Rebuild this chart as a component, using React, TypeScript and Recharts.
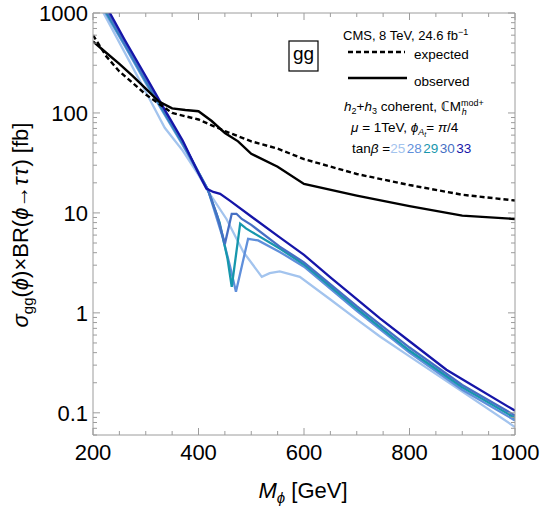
import { LineChart, Line, XAxis, YAxis } from 'recharts'

// CMS 8 TeV limits (fb) vs M_phi (GeV)
const obsMass = [200, 225, 250, 275, 300, 325, 350, 375, 400, 425, 450, 475, 500, 550, 600, 700, 800, 900, 1000]
const obsXs = [520, 400, 310, 235, 175, 130, 111, 107, 104, 83, 63, 52, 39, 29, 19.5, 14.9, 11.7, 9.4, 8.7]
const expMass = [200, 225, 250, 275, 300, 350, 400, 450, 500, 550, 600, 700, 800, 900, 1000]
const expXs = [600, 370, 260, 200, 153, 100, 86, 66, 52, 44, 34.5, 24.5, 19, 15.2, 13.3]

// h2+h3 coherent predictions for each tanβ
const tb25Mass = [214, 220, 260, 300, 336, 370, 400, 418, 453, 485, 520, 535, 554, 592, 650, 700, 744, 800, 900, 1000]
const tb25Xs = [1400, 1000, 404, 163, 71, 42, 24, 16.5, 8.7, 4.07, 2.29, 2.5, 2.6, 2.29, 1.36, 0.86, 0.58, 0.367, 0.163, 0.072]
const tb28Mass = [216, 224, 260, 300, 340, 370, 400, 418, 445, 460, 471, 494, 513, 554, 600, 700, 800, 900, 1000]
const tb28Xs = [1400, 1000, 470, 200, 88, 48, 25, 17, 5.9, 2.9, 1.63, 5.5, 5.3, 4.07, 2.9, 1.05, 0.4, 0.17, 0.084]
const tb29Mass = [218, 226, 260, 300, 340, 370, 400, 418, 440, 455, 463, 479, 490, 500, 554, 600, 700, 800, 900, 1000]
const tb29Xs = [1400, 1000, 490, 210, 92, 50, 25.5, 17, 8, 3.5, 1.82, 7.8, 7.0, 6.5, 4.4, 3.05, 1.1, 0.42, 0.18, 0.089]
const tb30Mass = [218, 228, 260, 300, 340, 370, 400, 418, 435, 450, 463, 472, 482, 500, 554, 600, 700, 800, 900, 1000]
const tb30Xs = [1300, 1000, 500, 215, 94, 51, 25.5, 17, 9.5, 4.9, 9.8, 9.8, 8.7, 7.6, 4.6, 3.2, 1.17, 0.45, 0.19, 0.094]
const tb33Mass = [220, 232, 260, 300, 340, 370, 400, 415, 428, 441, 460, 500, 554, 600, 650, 700, 744, 800, 870, 900, 1000]
const tb33Xs = [1300, 1000, 540, 233, 99, 53, 25, 17.5, 16.2, 15.5, 13.2, 9.2, 5.7, 3.8, 2.27, 1.37, 0.88, 0.52, 0.27, 0.217, 0.105]

const xMajor = [200, 400, 600, 800, 1000]
const xMinor = [250, 300, 350, 450, 500, 550, 650, 700, 750, 850, 900, 950]
const yMajor = [0.1, 1, 10, 100, 1000]
const yMinor = [0.01, 0.1, 1, 10, 100]
  .flatMap((d) => [2, 3, 4, 5, 6, 7, 8, 9].map((k) => k * d))
  .filter((v) => v >= 0.06 && v < 1000)

const FRAME = '#9c9c9c'
const FONT = '"Liberation Sans", Arial, Helvetica, sans-serif'

const pts = (m: number[], v: number[]) => m.map((x, i) => ({ m: x, v: v[i] }))

const tanbSeries = [
  { name: '25', color: '#a3c4ee', data: pts(tb25Mass, tb25Xs) },
  { name: '28', color: '#5f8fdb', data: pts(tb28Mass, tb28Xs) },
  { name: '29', color: '#1797ad', data: pts(tb29Mass, tb29Xs) },
  { name: '30', color: '#4670c4', data: pts(tb30Mass, tb30Xs) },
  { name: '33', color: '#1515a8', data: pts(tb33Mass, tb33Xs) }
]

const isMajor = (list: number[], v: number) => list.some((t) => Math.abs(t - v) < 1e-9)

const LeftTick = ({ x, y, payload }: any) => {
  const major = isMajor(yMajor, payload.value)
  return (
    <g>
      <line x1={x} y1={y} x2={x + (major ? 7 : 4)} y2={y} stroke={FRAME} />
      {major && (
        <text x={x - 5} y={y + 8} textAnchor="end" fontSize={22} fill="#000">
          {String(payload.value)}
        </text>
      )}
    </g>
  )
}

const RightTick = ({ x, y, payload }: any) => {
  const major = isMajor(yMajor, payload.value)
  return <line x1={x - (major ? 7 : 4)} y1={y} x2={x} y2={y} stroke={FRAME} />
}

const BottomTick = ({ x, y, payload }: any) => {
  const major = isMajor(xMajor, payload.value)
  return (
    <g>
      <line x1={x} y1={y - (major ? 7 : 4)} x2={x} y2={y} stroke={FRAME} />
      {major && (
        <text x={x} y={y + 25} textAnchor="middle" fontSize={22} fill="#000">
          {String(payload.value)}
        </text>
      )}
    </g>
  )
}

const TopTick = ({ x, y, payload }: any) => {
  const major = isMajor(xMajor, payload.value)
  return <line x1={x} y1={y} x2={x} y2={y + (major ? 7 : 4)} stroke={FRAME} />
}

const Annotations = () => (
  <svg
    width={542}
    height={509}
    style={{ position: 'absolute', left: 0, top: 0, pointerEvents: 'none', whiteSpace: 'pre' }}
    fontFamily={FONT}
  >
    {/* axis titles */}
    <text transform="rotate(-90)" x={-225} y={28} textAnchor="middle" fontSize={22}>
      <tspan fontStyle="italic">σ</tspan>
      <tspan fontSize={15} dy={5}>gg</tspan>
      <tspan dy={-5}>(</tspan>
      <tspan fontStyle="italic">ϕ</tspan>
      <tspan>)×BR(</tspan>
      <tspan fontStyle="italic">ϕ</tspan>
      <tspan>→</tspan>
      <tspan fontStyle="italic">τ</tspan>
      <tspan fontStyle="italic" dx={1.5}>τ</tspan>
      <tspan dx={1}>) [fb]</tspan>
    </text>
    <text x={303} y={498} textAnchor="middle" fontSize={22}>
      <tspan fontStyle="italic">M</tspan>
      <tspan fontStyle="italic" fontSize={15} dy={5}>ϕ</tspan>
      <tspan dy={-5}> [GeV]</tspan>
    </text>

    {/* gg box */}
    <rect x={289} y={41} width={29} height={30} fill="#fff" stroke="#000" strokeWidth={1.2} />
    <text x={303.5} y={60} textAnchor="middle" fontSize={19}>gg</text>

    {/* legend */}
    <text x={343} y={40} fontSize={13}>
      <tspan>CMS, 8 TeV, 24.6 fb</tspan>
      <tspan fontSize={9} dy={-5}>−1</tspan>
    </text>
    <line x1={348} y1={52} x2={405} y2={52} stroke="#000" strokeWidth={2.4} strokeDasharray="5 3" />
    <text x={414} y={59} fontSize={13.5}>expected</text>
    <line x1={348} y1={78} x2={407} y2={78} stroke="#000" strokeWidth={2.4} />
    <text x={414} y={86} fontSize={13.5}>observed</text>

    <text x={344} y={111} fontSize={13.5}>
      <tspan fontStyle="italic">h</tspan>
      <tspan fontSize={9} dy={3}>2</tspan>
      <tspan dy={-3}>+</tspan>
      <tspan fontStyle="italic">h</tspan>
      <tspan fontSize={9} dy={3}>3</tspan>
      <tspan dy={-3}> coherent, ℂM</tspan>
      <tspan fontSize={9} dy={-5}>mod+</tspan>
      <tspan fontSize={9} fontStyle="italic" dx={-22} dy={9}>h</tspan>
    </text>
    <text x={351} y={132} fontSize={13.5}>
      <tspan fontStyle="italic">μ</tspan>
      <tspan> = 1TeV, </tspan>
      <tspan fontStyle="italic">ϕ</tspan>
      <tspan fontSize={9} fontStyle="italic" dy={3}>A</tspan>
      <tspan fontSize={7} fontStyle="italic" dy={2}>t</tspan>
      <tspan dy={-5}>= </tspan>
      <tspan fontStyle="italic">π</tspan>
      <tspan>/4</tspan>
    </text>
    <text x={352} y={153} fontSize={13.5}>
      <tspan>tan</tspan>
      <tspan fontStyle="italic">β</tspan>
      <tspan> =</tspan>
      {tanbSeries.map((s, i) => (
        <tspan key={s.name} fill={s.color} dx={i === 0 ? 0 : 1.5}>
          {s.name}
        </tspan>
      ))}
    </text>
  </svg>
)

export default function App() {
  return (
    <div
      style={{
        position: 'absolute',
        left: 0,
        top: 0,
        width: 542,
        height: 509,
        background: '#fff',
        fontFamily: FONT
      }}
    >
      <LineChart width={542} height={509} margin={{ top: 0, right: 0, bottom: 0, left: 0 }}>
        <XAxis
          xAxisId={0}
          type="number"
          dataKey="m"
          domain={[200, 1000]}
          ticks={[...xMajor, ...xMinor]}
          interval={0}
          allowDataOverflow
          height={74}
          tickSize={0}
          tickMargin={0}
          tickLine={false}
          axisLine={{ stroke: FRAME }}
          tick={<BottomTick />}
        />
        <XAxis
          xAxisId="top"
          orientation="top"
          type="number"
          dataKey="m"
          domain={[200, 1000]}
          ticks={[...xMajor, ...xMinor]}
          interval={0}
          allowDataOverflow
          height={13}
          tickSize={0}
          tickMargin={0}
          tickLine={false}
          axisLine={{ stroke: FRAME }}
          tick={<TopTick />}
        />
        <YAxis
          yAxisId={0}
          type="number"
          scale="log"
          domain={[0.06, 1000]}
          ticks={[...yMajor, ...yMinor]}
          interval={0}
          allowDataOverflow
          width={93}
          tickSize={0}
          tickMargin={0}
          tickLine={false}
          axisLine={{ stroke: FRAME }}
          tick={<LeftTick />}
        />
        <YAxis
          yAxisId="r"
          orientation="right"
          type="number"
          scale="log"
          domain={[0.06, 1000]}
          ticks={[...yMajor, ...yMinor]}
          interval={0}
          allowDataOverflow
          width={27}
          tickSize={0}
          tickMargin={0}
          tickLine={false}
          axisLine={{ stroke: FRAME }}
          tick={<RightTick />}
        />
        {tanbSeries.map((s) => (
          <Line
            key={s.name}
            data={s.data}
            dataKey="v"
            type="linear"
            stroke={s.color}
            strokeWidth={2.3}
            dot={false}
            isAnimationActive={false}
          />
        ))}
        <Line
          data={pts(expMass, expXs)}
          dataKey="v"
          type="linear"
          stroke="#000"
          strokeWidth={2.4}
          strokeDasharray="5 3"
          dot={false}
          isAnimationActive={false}
        />
        <Line
          data={pts(obsMass, obsXs)}
          dataKey="v"
          type="linear"
          stroke="#000"
          strokeWidth={2.4}
          dot={false}
          isAnimationActive={false}
        />
      </LineChart>
      <Annotations />
    </div>
  )
}
